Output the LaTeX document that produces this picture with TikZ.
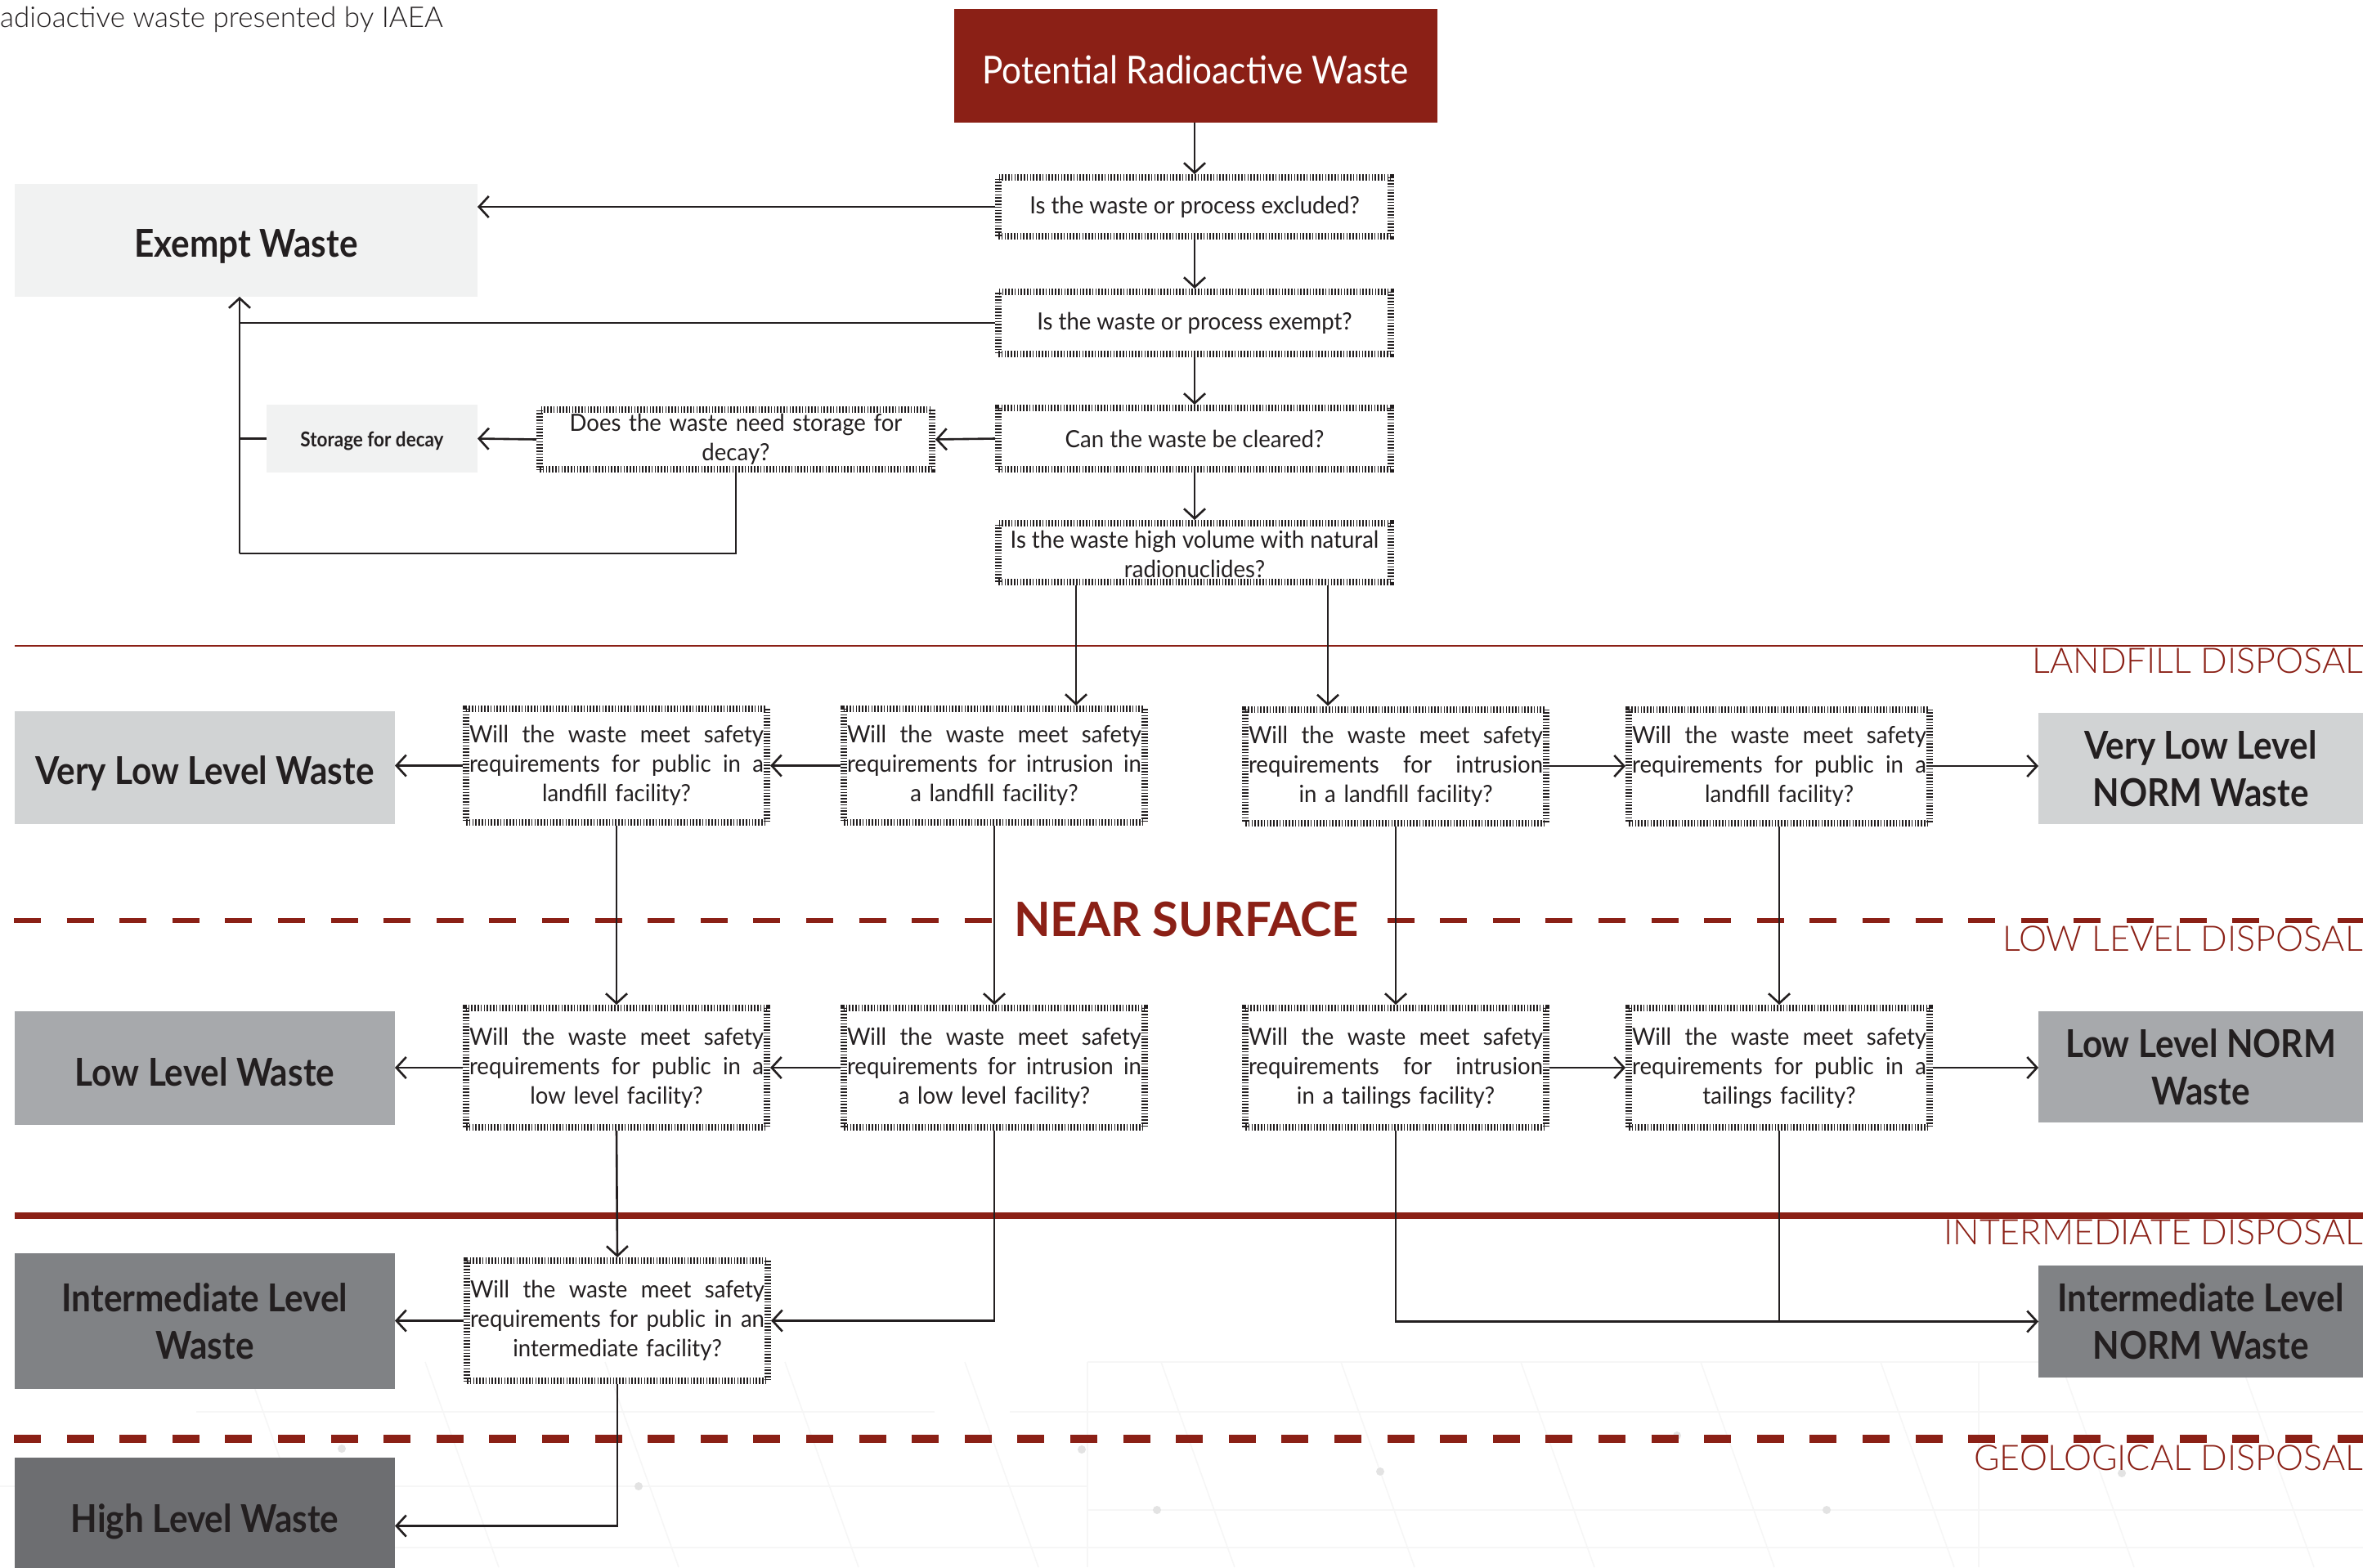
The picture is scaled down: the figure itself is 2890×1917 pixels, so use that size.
\documentclass[tikz,border=0pt]{standalone}
\usepackage{fontspec}
\setmainfont{Lato}
\newfontfamily\qfont[FakeStretch=0.95]{Lato}
\newfontfamily\hfont[FakeStretch=0.9]{Lato}
\newfontfamily\nfont{Lato}
\newfontfamily\lfont{Lato Light}
\usetikzlibrary{arrows.meta}

\definecolor{iaeared}{HTML}{8B2016}
\definecolor{ink}{HTML}{231F20}
\definecolor{exemptgray}{HTML}{F1F2F2}
\definecolor{vllgray}{HTML}{D1D3D4}
\definecolor{llgray}{HTML}{A7A9AC}
\definecolor{ilgray}{HTML}{808285}
\definecolor{hlgray}{HTML}{6D6E71}
\definecolor{faint}{HTML}{F6F6F6}

% font sizes (1pt = 1 unit of the drawing)
\newcommand\qsize{\qfont\fontsize{29}{36}\selectfont}
\newcommand\catsize{\hfont\bfseries\fontsize{47}{58}\selectfont}
\newcommand\zonesize{\lfont\fontsize{43}{48}\selectfont}
\newlength\qw
\setlength\qw{360pt}
% two justified lines and a centred last line
\newcommand\qline[1]{\makebox[\qw][s]{\spaceskip=0.25em plus 1fil\relax #1}}
\newcommand\qtext[3]{\qline{#1}\\\qline{#2}\\#3}
% move text visually without changing the node size
\newcommand\shiftdown[2]{\raisebox{-#1}[\height][\depth]{#2}}

\tikzset{
  question/.style={draw=ink, line width=8pt, dash pattern=on 1.6pt off 2.2pt,
    inner sep=0pt, outer sep=4pt, align=center, font=\qsize, text=ink},
  qwide/.style={question, minimum width=480pt},
  qtall/.style={question, minimum width=368pt, text width=\qw},
  category/.style={inner sep=0pt, outer sep=0pt, align=center, font=\catsize,
    text=ink, minimum width=465pt},
  normcat/.style={category, minimum width=397pt},
  zone/.style={anchor=base east, inner sep=0pt, font=\zonesize, text=iaeared},
  conn/.style={draw=ink, line width=2.6pt},
  arr/.style={conn, -{Straight Barb[length=12pt,width=26pt]}},
}

\begin{document}
\begin{tikzpicture}[x=1pt,y=-1pt]
\fill[white] (0,0) rectangle (2890,1917);
\useasboundingbox (0,0) rectangle (2890,1917);

% faint texture in the geological zone
\begin{scope}[draw=faint, line width=1.5pt]
  \draw (240,1727) -- (1143,1727);
  \draw (1235,1727) -- (2890,1727);
  \draw (0,1818) -- (1330,1818);
  \draw (1330,1666) -- (2890,1666);
  \draw (480,1893) -- (2890,1893);
  \draw (1330,1847) -- (2890,1847);
  \draw (1330,1666) -- (1330,1917);
  \draw (2420,1666) -- (2420,1917);
  \foreach \x in {300,520,740,960,1180,1420,1640,1860,2080,2300,2520,2740}
    \draw (\x,1666) -- (\x+90,1917);
\end{scope}
\foreach \p in {(418,1772),(1323,1773),(781,1818),(1688,1800),(1415,1847),(2234,1847),(2051,1756),(2595,1802)}
  \fill[gray!22] \p circle (5);

% zone separators
\draw[iaeared, line width=2.5pt] (18,790) -- (2890,790);
\draw[iaeared, line width=5.5pt, dash pattern=on 33pt off 31.6pt] (17,1126) -- (2890,1126);
\draw[iaeared, line width=8pt] (18,1487) -- (2890,1487);
\draw[iaeared, line width=10pt, dash pattern=on 33pt off 31.6pt] (17,1760) -- (2890,1760);

% caption and zone names
\node[anchor=base west, inner sep=0pt, font=\lfont\fontsize{35}{40}\selectfont, text=ink]
  (caption) at (0,33) {adioactive waste presented by IAEA};
\node[zone] (landfill) at (2890,823) {LANDFILL DISPOSAL};
\node[zone] (lowzone) at (2890,1163) {LOW LEVEL DISPOSAL};
\node[zone] (intzone) at (2890,1522) {INTERMEDIATE DISPOSAL};
\node[zone] (geozone) at (2890,1798) {GEOLOGICAL DISPOSAL};
\node[fill=white, inner sep=5pt, text=iaeared, font=\nfont\bfseries\fontsize{58}{58}\selectfont]
  (near) at (1451,1125) {NEAR SURFACE};

% start
\node[fill=iaeared, minimum width=591pt, minimum height=139pt, inner sep=0pt, outer sep=0pt,
  text=white, font=\hfont\fontsize{47}{50}\selectfont] (pot) at (1462,80.5)
  {\shiftdown{5pt}{Potential Radioactive Waste}};

% screening questions
\node[qwide, minimum height=72pt] (excl) at (1461,253) {Is the waste or process excluded?};
\node[qwide, minimum height=76pt] (exq) at (1461,395) {Is the waste or process exempt?};
\node[qwide, minimum height=75pt] (clr) at (1461,536.5) {Can the waste be cleared?};
\node[qwide, minimum height=68pt] (hv) at (1461,676)
  {\shiftdown{5pt}{\begin{tabular}{@{}c@{}}Is the waste high volume with natural\\radionuclides?\end{tabular}}};
\node[qwide, minimum height=73pt, text width=470pt] (decay) at (900,537.5)
  {Does the waste need storage for\\decay?};

% outcome categories
\node[category, fill=exemptgray, minimum width=566pt, minimum height=138pt] (exempt) at (301,294)
  {\shiftdown{7pt}{Exempt Waste}};
\node[category, fill=exemptgray, minimum width=258pt, minimum height=83pt,
  font=\hfont\bfseries\fontsize{25}{30}\selectfont] (storage) at (455,536.5)
  {\shiftdown{3pt}{Storage for decay}};
\node[category, fill=vllgray, minimum height=138pt] (vll) at (250.5,939) {\shiftdown{7pt}{Very Low Level Waste}};
\node[category, fill=llgray, minimum height=139pt] (ll) at (250.5,1306.5) {\shiftdown{5pt}{Low Level Waste}};
\node[category, fill=ilgray, minimum height=166pt] (ilw) at (250.5,1616) {Intermediate Level\\Waste};
\node[category, fill=hlgray, minimum height=167pt] (hlw) at (250.5,1866.5) {\shiftdown{-5pt}{High Level Waste}};
\node[normcat, fill=vllgray, minimum height=136pt] (vlln) at (2691.5,940) {Very Low Level\\NORM Waste};
\node[normcat, fill=llgray, minimum height=136pt] (lln) at (2691.5,1305) {Low Level NORM\\Waste};
\node[normcat, fill=ilgray, minimum height=137pt] (iln) at (2691.5,1616.5) {Intermediate Level\\NORM Waste};

% facility questions
\node[qtall, minimum height=139pt] (A) at (754,936.5)
  {\qtext{Will the waste meet safety}{requirements for public in a}{landfill facility?}};
\node[qtall, minimum height=139pt] (B) at (1216,936.5)
  {\qtext{Will the waste meet safety}{requirements for intrusion in}{a landfill facility?}};
\node[qtall, minimum height=139pt] (C) at (1707,937)
  {\qtext{Will the waste meet safety}{requirements for intrusion}{in a landfill facility?}};
\node[qtall, minimum height=139pt] (D) at (2176,937)
  {\qtext{Will the waste meet safety}{requirements for public in a}{landfill facility?}};
\node[qtall, minimum height=146pt] (A2) at (754,1306)
  {\qtext{Will the waste meet safety}{requirements for public in a}{low level facility?}};
\node[qtall, minimum height=146pt] (B2) at (1216,1306)
  {\qtext{Will the waste meet safety}{requirements for intrusion in}{a low level facility?}};
\node[qtall, minimum height=146pt] (C2) at (1707,1306)
  {\qtext{Will the waste meet safety}{requirements for intrusion}{in a tailings facility?}};
\node[qtall, minimum height=146pt] (D2) at (2176,1306)
  {\qtext{Will the waste meet safety}{requirements for public in a}{tailings facility?}};
\node[qtall, minimum height=147pt] (A3) at (755,1615.5)
  {\qtext{Will the waste meet safety}{requirements for public in an}{intermediate facility?}};

% screening flow
\draw[arr] (excl.north |- pot.south) -- (excl.north);
\draw[arr] (excl.west) -- (excl.west -| exempt.east);
\draw[arr] (excl.south) -- (exq.north);
\draw[arr] (exq.south) -- (clr.north);
\draw[arr] (clr.south) -- (hv.north);
\draw[arr] (clr.west) -- (decay.east);
\draw[arr] (decay.west) -- (storage.east);
\coordinate (loop) at (293,677);
\draw[conn] (decay.south) |- (loop);
\draw[arr] (loop) -- (loop |- exempt.south);
\draw[conn] (exq.west) -- (exq.west -| loop);
\draw[conn] (storage.west) -- (storage.west -| loop);

% split by radionuclide origin
\coordinate (hvl) at ([xshift=-145pt]hv.south);
\coordinate (hvr) at ([xshift=163pt]hv.south);
\draw[arr] (hvl) -- (hvl |- B.north);
\draw[arr] (hvr) -- (hvr |- C.north);

% landfill row
\draw[arr] (B.west) -- (A.east);
\draw[arr] (A.west) -- (A.west -| vll.east);
\draw[arr] (C.east) -- (D.west);
\draw[arr] (D.east) -- (D.east -| vlln.west);

% down to low level row
\draw[arr] (A.south) -- (A2.north);
\draw[arr] (B.south) -- (B2.north);
\draw[arr] (C.south) -- (C2.north);
\draw[arr] (D.south) -- (D2.north);
\draw[arr] (B2.west) -- (A2.east);
\draw[arr] (A2.west) -- (A2.west -| ll.east);
\draw[arr] (C2.east) -- (D2.west);
\draw[arr] (D2.east) -- (D2.east -| lln.west);

% intermediate and geological
\draw[arr] (A2.south) -- (A3.north);
\draw[arr] (B2.south) |- (A3.east);
\draw[arr] (A3.west) -- (A3.west -| ilw.east);
\draw[arr] (C2.south) |- (iln.west);
\draw[conn] (D2.south) -- (D2.south |- iln.west);
\draw[arr] (A3.south) |- (hlw.east);
\end{tikzpicture}
\end{document}
